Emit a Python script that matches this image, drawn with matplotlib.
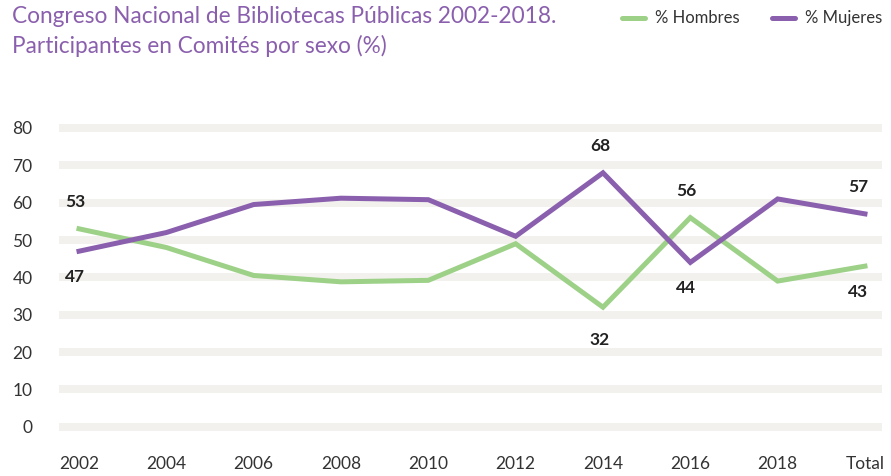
import matplotlib
matplotlib.use("Agg")
import matplotlib.pyplot as plt
from matplotlib.lines import Line2D

plt.rcParams['font.family'] = ['Lato', 'DejaVu Sans']

categories = ['2002', '2004', '2006', '2008', '2010', '2012', '2014', '2016', '2018', 'Total']
hombres = [53, 48, 40.5, 38.8, 39.2, 49, 32, 56, 39, 43]
mujeres = [47, 52, 59.5, 61.2, 60.8, 51, 68, 44, 61, 57]
labeled_idx = [0, 6, 7, 9]
yticks = [0, 10, 20, 30, 40, 50, 60, 70, 80]

title = 'Congreso Nacional de Bibliotecas Públicas 2002-2018.\nParticipantes en Comités por sexo (%)'
green = '#9dd188'
purple = '#8a5fad'
title_color = '#8a5fad'
text_dark = '#333333'
grid_color = '#f2f1ed'

W, H = 891, 476
fig = plt.figure(figsize=(W / 100, H / 100), dpi=100)
left_px, right_px = 59, 882
top_px, bot_px = 128, 426.7
ax = fig.add_axes([left_px / W, 1 - bot_px / H, (right_px - left_px) / W, (bot_px - top_px) / H])
ax.set_ylim(0, 80)
ax.set_xlim(-0.229, 9.195)
for s in ax.spines.values():
    s.set_visible(False)

px2pt = 72 / 100
for yv in yticks:
    ax.axhline(yv, color=grid_color, lw=8 * px2pt, zorder=0, clip_on=False, solid_capstyle='butt')

x = list(range(len(categories)))
ax.plot(x, hombres, color=green, lw=5 * px2pt, solid_joinstyle='miter', clip_on=False, zorder=3)
ax.plot(x, mujeres, color=purple, lw=5 * px2pt, solid_joinstyle='miter', clip_on=False, zorder=3)

ax.set_xticks(x)
ax.set_xticklabels(categories)
ax.set_yticks(yticks)
ax.tick_params(axis='both', length=0, labelsize=12.5, colors=text_dark)
ax.tick_params(axis='y', pad=19)
ax.tick_params(axis='x', pad=21)

dx_map = {0: -4, 6: -3, 7: -4, 9: -7}
for i in labeled_idx:
    h, m = hombres[i], mujeres[i]
    hi_v, lo_v = (h, m) if h >= m else (m, h)
    dx = dx_map.get(i, 0)
    ax.annotate(f'{hi_v:.0f}', (i, hi_v), xytext=(dx, 27), textcoords='offset pixels',
                ha='center', va='center', fontsize=12.5, fontweight='bold', color='#222222')
    ax.annotate(f'{lo_v:.0f}', (i, lo_v), xytext=(dx, -26 if i != 6 else -33), textcoords='offset pixels',
                ha='center', va='center', fontsize=12.5, fontweight='bold', color='#222222')

fig.text(12 / W, 1 - 6 / H, title, ha='left', va='top', fontsize=16.3, color=title_color,
         linespacing=1.42)

# legend
leg_items = [('% Hombres', green, 622), ('% Mujeres', purple, 772)]
for lbl, col, x0 in leg_items:
    fig.add_artist(Line2D([x0 / W, (x0 + 23) / W], [1 - 18 / H, 1 - 18 / H], color=col,
                          lw=5 * px2pt, solid_capstyle='round'))
    fig.text((x0 + 33) / W, 1 - 18 / H, lbl, ha='left', va='center', fontsize=12, color=text_dark)

fig.savefig('out.png', dpi=100)
